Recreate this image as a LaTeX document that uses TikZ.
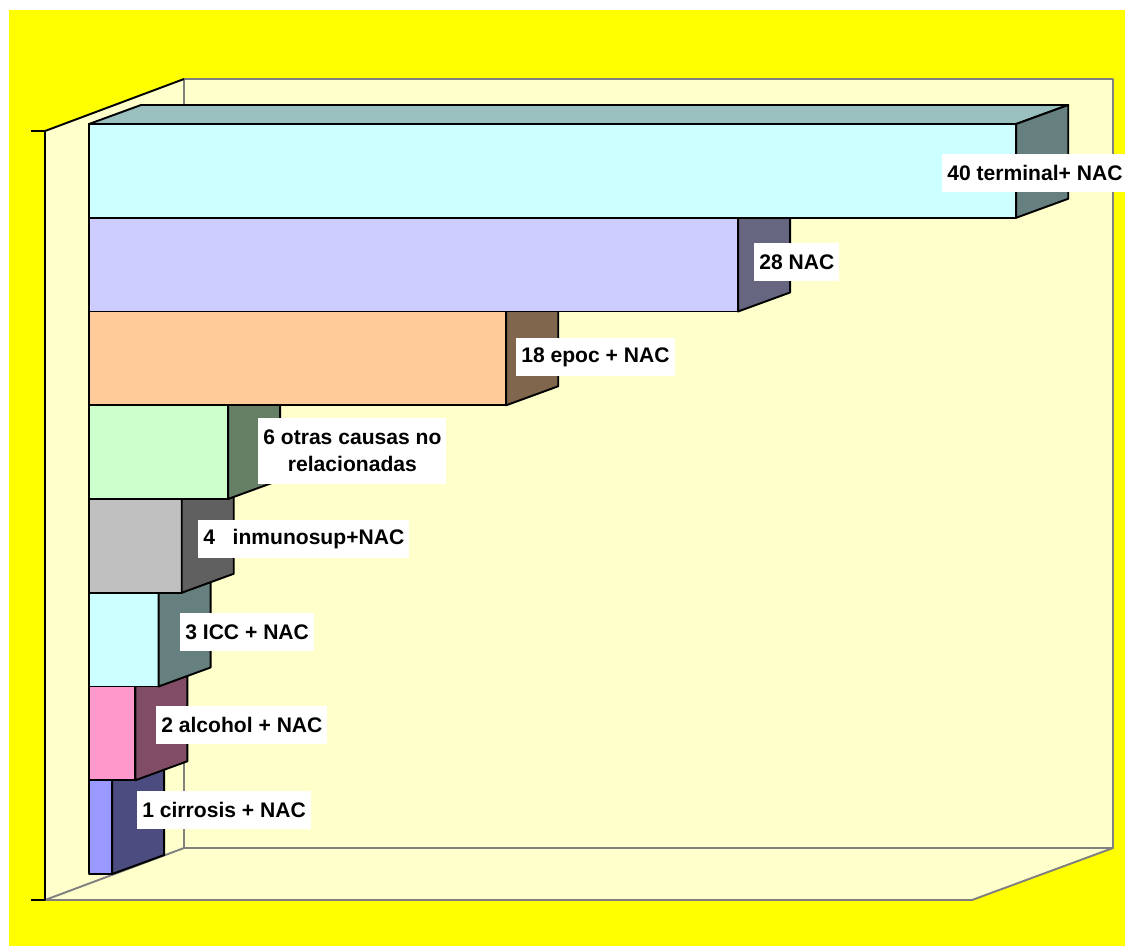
\documentclass[tikz,border=0pt]{standalone}
\usepackage{fontspec}
\setmainfont{Liberation Sans}
\usepackage{xcolor}

\definecolor{chartbg}{HTML}{FFFF00}
\definecolor{wallfill}{HTML}{FFFFCC}
\definecolor{wallline}{HTML}{808080}
\definecolor{barA}{HTML}{CCFFFF}
\definecolor{barB}{HTML}{CCCCFF}
\definecolor{barC}{HTML}{FFCC99}
\definecolor{barD}{HTML}{CCFFCC}
\definecolor{barE}{HTML}{C0C0C0}
\definecolor{barF}{HTML}{CCFFFF}
\definecolor{barG}{HTML}{FF99CC}
\definecolor{barH}{HTML}{9999FF}

\begin{document}
\begin{tikzpicture}[x=0.02cm, y=-0.02cm, line join=round,
    wall/.style={fill=wallfill, draw=wallline, line width=1.1pt},
    bar/.style={draw=black, line width=1.1pt},
    tag/.style={fill=white, anchor=west, inner xsep=0.1cm, minimum height=0.76cm,
        font=\bfseries\fontsize{12}{15.4}\selectfont}]
    \useasboundingbox (0,0) rectangle (1125,947);
    \fill[chartbg] (9,10) rectangle (1125,946);

    % walls and floor
    \fill[wallfill] (45,131) -- (184,79) -- (184,848) -- (45,900) -- cycle;
    \draw[wall] (45,900) -- (184,848) -- (1113,848) -- (972,900) -- cycle;
    \draw[wall] (184,79) rectangle (1113,848);

    % value axis
    \draw[line width=1.1pt] (31,131) -- (45,131) -- (45,900) -- (31,900);
    \draw[line width=1.1pt] (45,131) -- (184,79);

    % bars, bottom one first so the upper ones cover it
    \foreach \i/\v/\c in {8/1/barH, 7/2/barG, 6/3/barF, 5/4/barE,
                          4/6/barD, 3/18/barC, 2/28/barB, 1/40/barA} {
        \pgfmathsetmacro{\ytop}{124+(\i-1)*93.75}
        \pgfmathsetmacro{\ybot}{\ytop+93.75}
        \pgfmathsetmacro{\xend}{89+\v*23.18}
        \draw[bar, fill=\c!75!black] (89,\ytop) -- (141,\ytop-19) -- (\xend+52,\ytop-19) -- (\xend,\ytop) -- cycle;
        \draw[bar, fill=\c] (89,\ytop) rectangle (\xend,\ybot);
        \draw[bar, fill=\c!50!black] (\xend,\ytop) -- (\xend+52,\ytop-19) -- (\xend+52,\ybot-19) -- (\xend,\ybot) -- cycle;
    }

    % data labels
    \node[tag] (terminal) at (942,173) {40 terminal+ NAC};
    \node[tag] (nac) at (754,262) {28 NAC};
    \node[tag] (epoc) at (516,357) {18 epoc + NAC};
    \node[tag, align=center, inner ysep=0.24cm] (otras) at (258,451) {6 otras causas no\\relacionadas};
    \node[tag] (inmuno) at (198,539) {4\ \ \ inmunosup+NAC};
    \node[tag] (icc) at (180,632) {3 ICC + NAC};
    \node[tag] (alcohol) at (156,725) {2 alcohol + NAC};
    \node[tag] (cirrosis) at (137,810) {1 cirrosis + NAC};
\end{tikzpicture}
\end{document}
